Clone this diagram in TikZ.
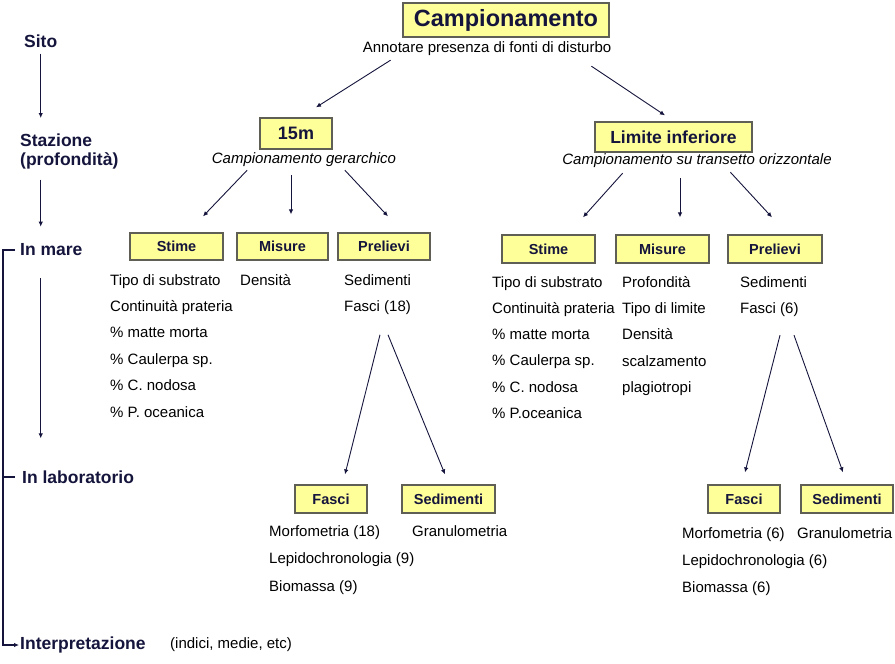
\documentclass[tikz,border=0pt]{standalone}
\usepackage{fontspec}
\setmainfont{Liberation Sans}
\usetikzlibrary{arrows.meta}
\definecolor{ink}{RGB}{20,20,60}
\definecolor{boxy}{RGB}{255,255,153}
\definecolor{boxl}{RGB}{95,95,85}

\begin{document}
\begin{tikzpicture}[x=1pt,y=-1pt,
  ar/.style={draw=ink,line width=.9pt,-{Latex[length=5pt,width=4.5pt]}},
  lar/.style={ar,line width=1.3pt},
  bx/.style={draw=boxl,line width=1.3pt,fill=boxy,inner sep=0pt,text=ink,
    font=\bfseries\fontsize{14.5}{16}\selectfont,minimum height=27pt},
  lv/.style={text=ink,font=\bfseries\fontsize{17.5}{19}\selectfont,inner sep=0pt},
  it/.style={inner sep=0pt,font=\itshape\fontsize{15}{17}\selectfont},
  ls/.style={inner sep=0pt,align=left,anchor=north west,font=\fontsize{15}{26.4}\selectfont}]
  \useasboundingbox (0,0) rectangle (895,664);

  % levels on the left
  \node[lv,anchor=west] (sito) at (24,41) {Sito};
  \node[lv,anchor=north west,align=left,font=\bfseries\fontsize{17.5}{19}\selectfont]
    (staz) at (20,134) {Stazione\\(profondità)};
  \node[lv,anchor=west] (mare) at (20,250) {In mare};
  \node[lv,anchor=west] (lab) at (22,477) {In laboratorio};
  \node[lv,anchor=west] (interp) at (20,645) {Interpretazione};
  \node[anchor=west,inner sep=0pt,font=\fontsize{15}{17}\selectfont] (note) at (170,645)
    {(indici, medie, etc)};
  \coordinate (brk) at (3,0);
  \draw[lar,shorten <=6pt,shorten >=16pt] (sito.south) -- (sito.south |- staz.north);
  \draw[lar,shorten <=10pt,shorten >=17pt] (sito.south |- staz.south) -- (sito.south |- mare.north);
  \draw[lar,shorten <=22pt,shorten >=32pt] (sito.south |- mare.south) -- (sito.south |- lab.north);
  \draw[lar] ([xshift=-5pt]mare.west) -- (brk |- mare.west) -- (brk |- interp.west)
    -- ([xshift=-1pt]interp.west);
  \draw[draw=ink,line width=1.3pt] (brk |- lab.west) -- ([xshift=-7pt]lab.west);

  % top
  \node[bx,minimum width=206pt,minimum height=34pt,font=\bfseries\fontsize{23.5}{26}\selectfont]
    (camp) at (506,20) {Campionamento};
  \node[inner sep=0pt,font=\fontsize{15}{17}\selectfont] (annot) at (487,49)
    {Annotare presenza di fonti di disturbo};
  \node[bx,minimum width=72pt,minimum height=31pt,font=\bfseries\fontsize{18}{20}\selectfont]
    (q15) at (296,133.5) {15m};
  \node[bx,minimum width=157pt,minimum height=30pt,font=\bfseries\fontsize{17.5}{20}\selectfont]
    (lim) at (673.5,137) {Limite inferiore};
  \node[it] (gerL) at (304,160) {Campionamento gerarchico};
  \node[it] (traR) at (697,161) {Campionamento su transetto orizzontale};
  \draw[ar] ([xshift=28pt,yshift=-4pt]annot.south west) -- ([xshift=20pt,yshift=10pt]q15.north);
  \draw[ar] ([xshift=-20pt,yshift=-10pt]annot.south east) -- ([xshift=-8.5pt,yshift=6pt]lim.north);

  % in mare
  \node[bx,minimum width=93pt] (stL) at (176.5,246.5) {Stime};
  \node[bx,minimum width=91pt] (miL) at (282.5,246.5) {Misure};
  \node[bx,minimum width=92pt] (prL) at (384,246.5) {Prelievi};
  \node[bx,minimum width=93pt,minimum height=28pt] (stR) at (548.5,249) {Stime};
  \node[bx,minimum width=93pt,minimum height=28pt] (miR) at (662.5,249) {Misure};
  \node[bx,minimum width=94pt,minimum height=28pt] (prR) at (775,249) {Prelievi};
  \draw[ar] ([xshift=35.5pt,yshift=-3pt]gerL.south west) -- ([xshift=26.5pt,yshift=16pt]stL.north);
  \draw[ar] ([xshift=-13pt,yshift=-8pt]gerL.south) -- ([xshift=8.5pt,yshift=18pt]miL.north);
  \draw[ar] ([xshift=-51.5pt,yshift=-3pt]gerL.south east) -- ([xshift=4pt,yshift=16pt]prL.north);
  \draw[ar] ([xshift=60.5pt,yshift=-5pt]traR.south west) -- ([xshift=34.5pt,yshift=17pt]stR.north);
  \draw[ar] ([xshift=-17pt,yshift=-10pt]traR.south) -- ([xshift=17.5pt,yshift=17pt]miR.north);
  \draw[ar] ([xshift=-101.5pt,yshift=-4pt]traR.south east) -- ([xshift=-3pt,yshift=17pt]prR.north);

  \node[ls] (stLt) at (110,274) {Tipo di substrato\\Continuità prateria\\\% matte morta\\
    \% Caulerpa sp.\\\% C. nodosa\\\% P. oceanica};
  \node[ls] (miLt) at (240,274) {Densità};
  \node[ls] (prLt) at (344,274) {Sedimenti\\Fasci (18)};
  \node[ls,font=\fontsize{15}{26.3}\selectfont] (stRt) at (492,276) {Tipo di substrato\\
    Continuità prateria\\\% matte morta\\\% Caulerpa sp.\\\% C. nodosa\\\% P.oceanica};
  \node[ls,font=\fontsize{15}{26.3}\selectfont] (miRt) at (622,276) {Profondità\\Tipo di limite\\
    Densità\\scalzamento\\plagiotropi};
  \node[ls,font=\fontsize{15}{26.3}\selectfont] (prRt) at (740,276) {Sedimenti\\Fasci (6)};

  % in laboratorio
  \node[bx,minimum width=72pt,minimum height=28pt] (faL) at (331,499) {Fasci};
  \node[bx,minimum width=93pt,minimum height=28pt] (seL) at (448.5,499) {Sedimenti};
  \node[bx,minimum width=72pt,minimum height=28pt] (faR) at (744,499) {Fasci};
  \node[bx,minimum width=92pt,minimum height=28pt] (seR) at (847,499) {Sedimenti};
  \draw[ar] ([xshift=36pt,yshift=-20pt]prLt.south west) -- ([xshift=14pt,yshift=10pt]faL.north);
  \draw[ar] ([xshift=44pt,yshift=-20pt]prLt.south west) -- ([xshift=-3.5pt,yshift=10pt]seL.north);
  \draw[ar] ([xshift=40pt,yshift=-18.5pt]prRt.south west) -- ([xshift=1pt,yshift=12pt]faR.north);
  \draw[ar] ([xshift=54pt,yshift=-18.5pt]prRt.south west) -- ([xshift=-4pt,yshift=12pt]seR.north);

  \node[ls,font=\fontsize{15}{27.5}\selectfont] (faLt) at (269,525) {Morfometria (18)\\
    Lepidochronologia (9)\\Biomassa (9)};
  \node[ls] (seLt) at (412,525) {Granulometria};
  \node[ls,font=\fontsize{15}{27}\selectfont] (faRt) at (682,527) {Morfometria (6)\\
    Lepidochronologia (6)\\Biomassa (6)};
  \node[ls] (seRt) at (797,527) {Granulometria};
\end{tikzpicture}
\end{document}
